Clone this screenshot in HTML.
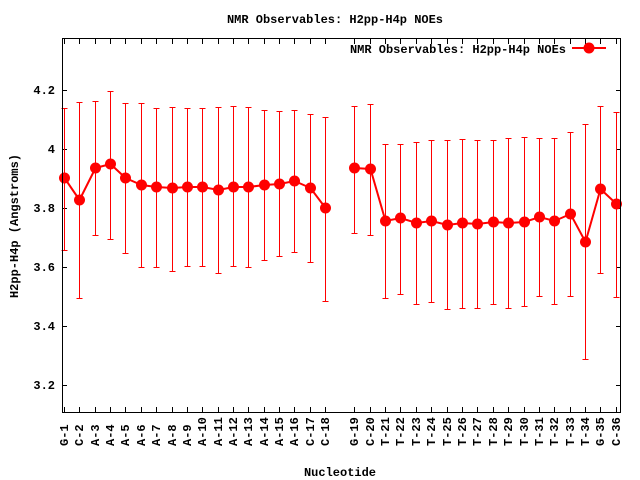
<!DOCTYPE html>
<html><head><meta charset="utf-8"><style>
html,body{margin:0;padding:0;background:#fff;}
svg{display:block;}
text{font-family:"Liberation Mono",monospace;font-weight:bold;font-size:12px;fill:#000;}
</style></head><body>
<svg width="640" height="480" viewBox="0 0 640 480" xmlns="http://www.w3.org/2000/svg">
<rect width="640" height="480" fill="#fff"/>
<text x="335" y="23" text-anchor="middle">NMR Observables: H2pp-H4p NOEs</text>
<g id="yt"></g>
<g id="xt"></g>
<g id="data"></g>
<rect x="62.5" y="38.5" width="558" height="374" fill="none" stroke="#000" stroke-width="1"/>
<text transform="translate(18,226) rotate(-90)" text-anchor="middle">H2pp-H4p (Angstroms)</text>
<text x="340" y="476" text-anchor="middle">Nucleotide</text>
<text x="566" y="53" text-anchor="end">NMR Observables: H2pp-H4p NOEs</text>
<line x1="572" y1="48" x2="606" y2="48" stroke="#f00" stroke-width="2"/>
<circle cx="589" cy="48" r="5.5" fill="#f00"/>
</svg>
<script>
var NS="http://www.w3.org/2000/svg";
function el(p,t,a,txt){var e=document.createElementNS(NS,t);for(var k in a)e.setAttribute(k,a[k]);if(txt)e.textContent=txt;p.appendChild(e);return e;}
var yt=document.getElementById('yt');
[[90,'4.2'],[149,'4'],[208,'3.8'],[267,'3.6'],[326,'3.4'],[385,'3.2']].forEach(function(t){
 el(yt,'line',{x1:62,y1:t[0]+.5,x2:67,y2:t[0]+.5,stroke:'#000'});
 el(yt,'line',{x1:616,y1:t[0]+.5,x2:621,y2:t[0]+.5,stroke:'#000'});
 el(yt,'text',{x:55,y:t[0]+4,'text-anchor':'end'},t[1]);
});
var xs=[64,79,95,110,125,141,156,172,187,202,218,233,248,264,279,294,310,325,354,370,385,400,416,431,447,462,477,493,508,524,539,554,570,585,600,616];
var labs=['G-1','C-2','A-3','A-4','A-5','A-6','A-7','A-8','A-9','A-10','A-11','A-12','A-13','A-14','A-15','A-16','C-17','C-18','G-19','C-20','T-21','T-22','T-23','T-24','T-25','T-26','T-27','T-28','T-29','T-30','T-31','T-32','T-33','T-34','G-35','C-36'];
var d=[[178,108,250],[200,102,298],[168,101,235],[164,91,239],[178,103,253],[185,103,267],[187,108,267],[188,107,271],[187,108,266],[187,108,266],[190,107,273],[187,106,266],[187,107,267],[185,110,260],[184,111,256],[181,110,252],[188,114,262],[208,117,301],
[168,106,233],[169,104,235],[221,144,298],[218,144,294],[223,142,304],[221,140,302],[225,140,309],[223,139,308],[224,140,308],[222,140,304],[223,138,308],[222,137,306],[217,138,296],[221,138,304],[214,132,296],[242,124,359],[189,106,273],[204,112,297]];
var xt=document.getElementById('xt');
xs.forEach(function(x,i){
 el(xt,'line',{x1:x+.5,y1:407,x2:x+.5,y2:412,stroke:'#000'});
 el(xt,'line',{x1:x+.5,y1:39,x2:x+.5,y2:44,stroke:'#000'});
 el(xt,'text',{transform:'translate('+(x+4)+',446) rotate(-90)','text-anchor':'start'},labs[i]);
});
var g=document.getElementById('data');
function line(a,b){var p=[];for(var i=a;i<=b;i++)p.push((xs[i]+.5)+','+d[i][0]);el(g,'polyline',{points:p.join(' '),fill:'none',stroke:'#f00','stroke-width':2});}
d.forEach(function(v,i){var x=xs[i]+.5;
 el(g,'line',{x1:x,y1:v[1],x2:x,y2:v[2],stroke:'#f00'});
 el(g,'line',{x1:x-3,y1:v[1]+.5,x2:x+3,y2:v[1]+.5,stroke:'#f00'});
 el(g,'line',{x1:x-3,y1:v[2]+.5,x2:x+3,y2:v[2]+.5,stroke:'#f00'});
});
line(0,17);line(18,35);
d.forEach(function(v,i){el(g,'circle',{cx:xs[i]+.5,cy:v[0],r:5.5,fill:'#f00'});});
</script>
</body></html>
